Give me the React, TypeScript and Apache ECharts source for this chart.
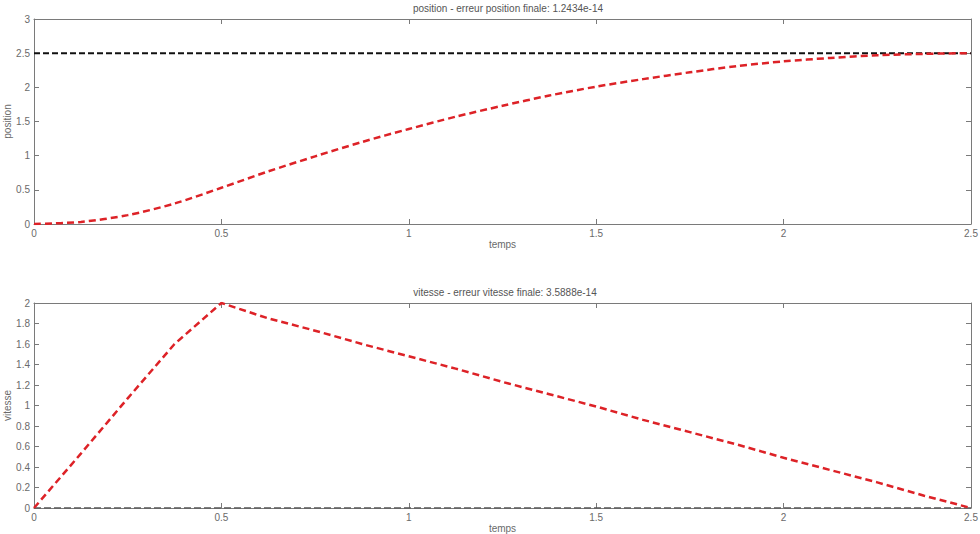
import React, { useEffect, useRef } from "react";
import * as echarts from "echarts";

const temps = [0, 0.125, 0.25, 0.375, 0.5, 0.625, 0.75, 0.875, 1.0, 1.125, 1.25, 1.375, 1.5, 1.625, 1.75, 1.875, 2.0, 2.125, 2.25, 2.375, 2.5];
const position = [0, 0.03, 0.13, 0.3, 0.53, 0.77, 0.99, 1.2, 1.39, 1.57, 1.73, 1.88, 2.01, 2.12, 2.22, 2.31, 2.38, 2.43, 2.47, 2.49, 2.5];
const vitesse = [0, 0.53, 1.07, 1.6, 2.0, 1.85, 1.73, 1.6, 1.48, 1.36, 1.23, 1.11, 0.99, 0.86, 0.74, 0.62, 0.49, 0.37, 0.25, 0.12, 0];
const positionCible = 2.5;
const vitesseCible = 0;
const titrePosition = "position - erreur position finale: 1.2434e-14";
const titreVitesse = "vitesse - erreur vitesse finale: 3.5888e-14";

const FONT = "Liberation Sans, Arial, sans-serif";
const AXIS_COLOR = "#7a7a7a";
const LABEL_COLOR = "#6a6a6a";

export default function App() {
  const ref = useRef<HTMLDivElement>(null);
  useEffect(() => {
    if (!ref.current) return;
    const chart = echarts.init(ref.current, null, { renderer: "svg" });
    const grids = [
      { left: 34, right: 9, top: 19, height: 205, containLabel: false, outerBoundsMode: "none" },
      { left: 34, right: 9, top: 303, height: 205, containLabel: false, outerBoundsMode: "none" },
    ];
    const mainX = (gi: number) => ({
      type: "value",
      gridIndex: gi,
      min: 0,
      max: 2.5,
      interval: 0.5,
      position: "bottom",
      name: "temps",
      nameLocation: "middle",
      nameGap: 15,
      nameMoveOverlap: false,
      nameTextStyle: { color: LABEL_COLOR, fontSize: 10, fontFamily: FONT },
      axisLine: { show: true, onZero: false, lineStyle: { color: AXIS_COLOR, width: 1 } },
      axisTick: { show: true, inside: true, length: 5, lineStyle: { color: AXIS_COLOR } },
      axisLabel: { color: LABEL_COLOR, fontSize: 10, fontFamily: FONT, margin: 4 },
      splitLine: { show: false },
    });
    const mirrorX = (gi: number) => ({
      type: "value",
      gridIndex: gi,
      min: 0,
      max: 2.5,
      interval: 0.5,
      position: "top",
      axisLine: { show: true, onZero: false, lineStyle: { color: AXIS_COLOR, width: 1 } },
      axisTick: { show: true, inside: true, length: 5, lineStyle: { color: AXIS_COLOR } },
      axisLabel: { show: false },
      splitLine: { show: false },
    });
    const mainY = (gi: number, max: number, interval: number, name: string) => ({
      type: "value",
      gridIndex: gi,
      min: 0,
      max,
      interval,
      position: "left",
      name,
      nameLocation: "middle",
      nameGap: 22,
      nameMoveOverlap: false,
      nameTextStyle: { color: LABEL_COLOR, fontSize: 10, fontFamily: FONT },
      axisLine: { show: true, onZero: false, lineStyle: { color: AXIS_COLOR, width: 1 } },
      axisTick: { show: true, inside: true, length: 5, lineStyle: { color: AXIS_COLOR } },
      axisLabel: { color: LABEL_COLOR, fontSize: 10, fontFamily: FONT, margin: 4 },
      splitLine: { show: false },
    });
    const mirrorY = (gi: number, max: number, interval: number) => ({
      type: "value",
      gridIndex: gi,
      min: 0,
      max,
      interval,
      position: "right",
      axisLine: { show: true, onZero: false, lineStyle: { color: AXIS_COLOR, width: 1 } },
      axisTick: { show: true, inside: true, length: 5, lineStyle: { color: AXIS_COLOR } },
      axisLabel: { show: false },
      splitLine: { show: false },
    });
    const posData = temps.map((t, i) => [t, position[i]]);
    const vitData = temps.map((t, i) => [t, vitesse[i]]);
    const red = "#dd2227";
    chart.setOption({
      animation: false,
      backgroundColor: "#ffffff",
      title: [
        {
          text: titrePosition,
          left: 503,
          textAlign: "center",
          top: -2,
          textStyle: { color: "#555", fontSize: 10, fontWeight: "normal", fontFamily: FONT },
        },
        {
          text: titreVitesse,
          left: 500,
          textAlign: "center",
          top: 282,
          textStyle: { color: "#555", fontSize: 10, fontWeight: "normal", fontFamily: FONT },
        },
      ],
      grid: grids,
      xAxis: [mainX(0), mirrorX(0), mainX(1), mirrorX(1)],
      yAxis: [
        mainY(0, 3, 0.5, "position"),
        mirrorY(0, 3, 0.5),
        mainY(1, 2, 0.2, "vitesse"),
        mirrorY(1, 2, 0.2),
      ],
      series: [
        {
          type: "line",
          xAxisIndex: 0,
          yAxisIndex: 0,
          data: [[temps[0], positionCible], [temps[temps.length - 1], positionCible]],
          showSymbol: false,
          lineStyle: { color: "#111", width: 2, type: [6, 3] },
        },
        {
          type: "line",
          xAxisIndex: 0,
          yAxisIndex: 0,
          data: posData,
          showSymbol: false,
          smooth: 0.3,
          lineStyle: { color: red, width: 2.5, type: [7, 4] },
        },
        {
          type: "line",
          xAxisIndex: 2,
          yAxisIndex: 2,
          data: [[temps[0], vitesseCible], [temps[temps.length - 1], vitesseCible]],
          showSymbol: false,
          lineStyle: { color: "#555", width: 1.5, type: [7, 3] },
        },
        {
          type: "line",
          xAxisIndex: 2,
          yAxisIndex: 2,
          data: vitData,
          showSymbol: false,
          lineStyle: { color: red, width: 2.5, type: [7, 4] },
        },
      ],
    });
    return () => chart.dispose();
  }, []);
  return <div ref={ref} style={{ width: 980, height: 534, position: "absolute", left: 0, top: 0 }} />;
}
